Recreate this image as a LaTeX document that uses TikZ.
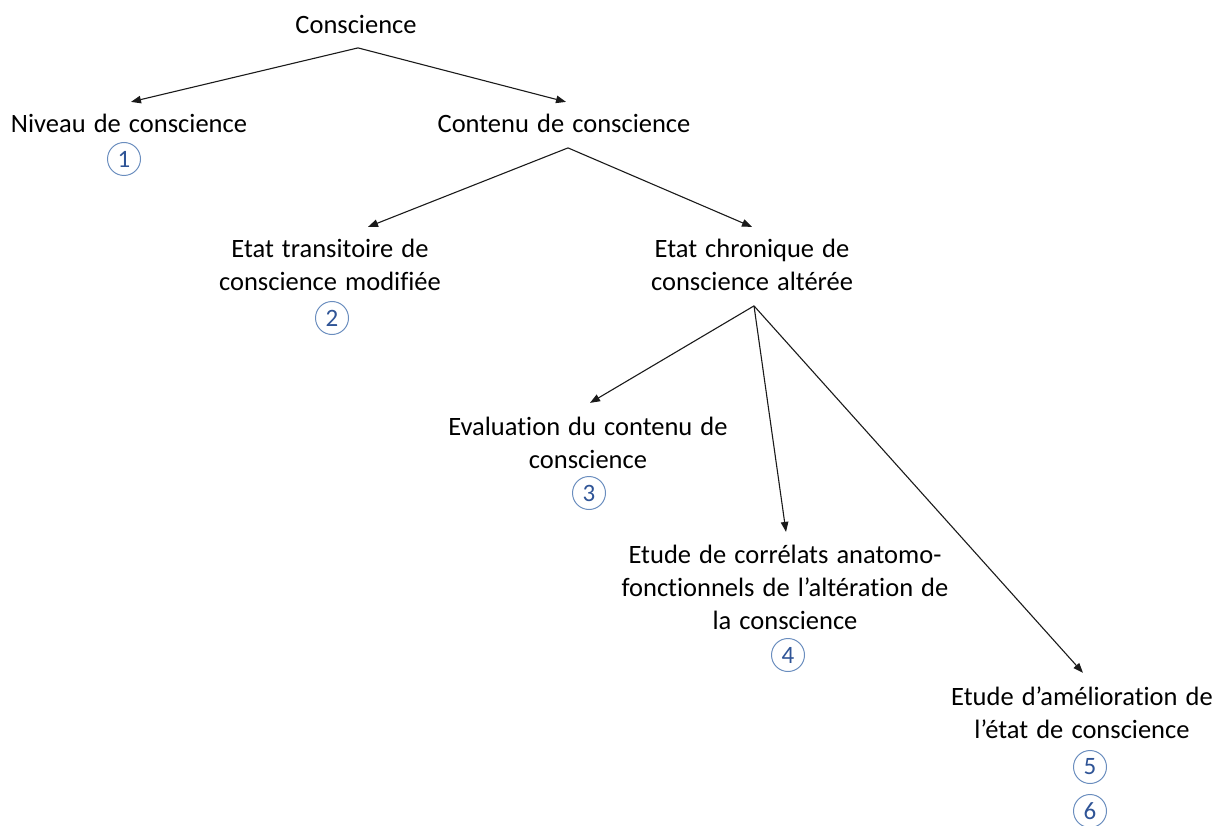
\documentclass[tikz,border=0pt]{standalone}
\usepackage{fontspec}
\setmainfont{Carlito}[Ligatures=NoCommon,WordSpace=1.35]
\usetikzlibrary{arrows.meta}
\definecolor{numblue}{HTML}{2F5496}
\definecolor{ringblue}{HTML}{6A8DBE}
\definecolor{arrowgray}{HTML}{1A1A1A}
\tikzset{
  lbl/.style={anchor=north, inner sep=0pt, outer sep=0pt, align=center,
    font=\fontsize{26.5}{33}\selectfont, text=black},
  num/.style={circle, draw=ringblue, line width=1pt, minimum size=33pt,
    inner sep=0pt, text=numblue, font=\fontsize{25}{28}\selectfont},
  arr/.style={-{Triangle[length=10pt,width=7.5pt]}, draw=arrowgray, line width=1.1pt}
}
\begin{document}
\begin{tikzpicture}[x=1pt,y=-1pt]
\useasboundingbox (0,0) rectangle (1222,826);
% text nodes (north = first baseline - 23.1)
\node[lbl] (cons) at (356,10.9) {\strut Conscience};
\node[lbl] (niv) at (129,109.9) {\strut Niveau de conscience};
\node[lbl] (cont) at (564,109.9) {\strut Contenu de conscience};
\node[lbl] (trans) at (330,233.9) {\strut Etat transitoire de\\\strut conscience modifiée};
\node[lbl] (chron) at (752,233.9) {\strut Etat chronique de\\\strut conscience altérée};
\node[lbl] (eval) at (588,411.9) {\strut Evaluation du contenu de\\\strut conscience};
\node[lbl] (corr) at (785,539.9) {\strut Etude de corrélats anatomo-\\\strut fonctionnels de l’altération de\\\strut la conscience};
\node[lbl] (amel) at (1082,681.9) {\strut Etude d’amélioration de\\\strut l’état de conscience};
% circled numbers
\node[num] (n1) at (124,159) {1};
\node[num] (n2) at (332,318) {2};
\node[num] (n3) at (589,493) {3};
\node[num] (n4) at (788,655) {4};
\node[num] (n5) at (1090,767) {5};
\node[num] (n6) at (1090,811) {6};
% connectors
\draw[arr] ([xshift=2pt,yshift=-4pt]cons.south) -- ([xshift=2pt,yshift=8pt]niv.north);
\draw[arr] ([xshift=2pt,yshift=-4pt]cons.south) -- ([xshift=2pt,yshift=8pt]cont.north);
\draw[arr] ([xshift=4pt,yshift=-5pt]cont.south) -- ([xshift=38pt,yshift=7pt]trans.north);
\draw[arr] ([xshift=4pt,yshift=-5pt]cont.south) -- ([yshift=7pt]chron.north);
\draw[arr] ([xshift=2pt,yshift=-6pt]chron.south) -- ([xshift=2pt,yshift=9pt]eval.north);
\draw[arr] ([xshift=2pt,yshift=-6pt]chron.south) -- ([xshift=1pt,yshift=8pt]corr.north);
\draw[arr] ([xshift=2pt,yshift=-6pt]chron.south) -- ([xshift=1pt,yshift=9pt]amel.north);
\end{tikzpicture}
\end{document}
